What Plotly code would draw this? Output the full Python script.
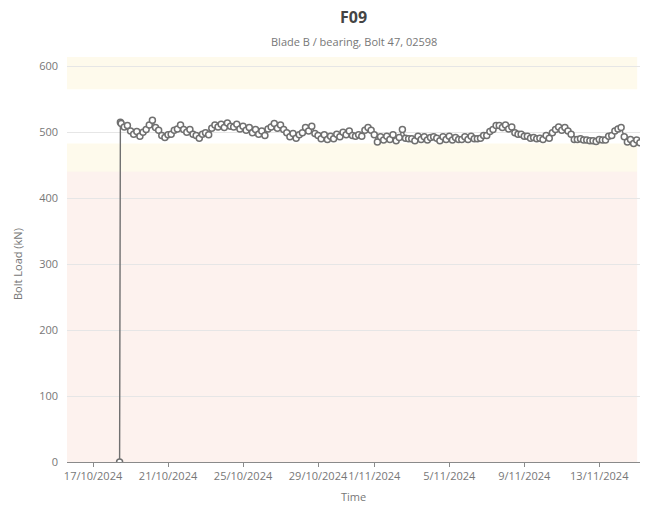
import pandas as pd
import plotly.graph_objects as go

title = "F09"
subtitle = "Blade B / bearing, Bolt 47, 02598"

# initial reading (zero) then readings every 4 hours
t_zero = "2024-10-18 10:00"
v_zero = 0
t_first = "2024-10-18 11:00"
v_first = 515
start_4h = "2024-10-18 12:00"
load_values = [
    513, 508, 510, 502, 497, 501, 494, 500, 504, 511,
    518, 507, 503, 495, 492, 496, 497, 503, 505, 511,
    504, 500, 504, 497, 495, 491, 497, 499, 496, 506,
    511, 508, 512, 507, 514, 509, 508, 512, 505, 509,
    503, 507, 499, 504, 497, 502, 495, 505, 508, 513,
    506, 511, 504, 499, 493, 498, 491, 496, 499, 507,
    502, 509, 498, 495, 490, 496, 489, 494, 490, 497,
    493, 500, 496, 502, 495, 494, 496, 494, 503, 507,
    503, 496, 485, 493, 488, 494, 489, 496, 487, 492,
    504, 491, 490, 490, 487, 494, 489, 493, 488, 492,
    493, 491, 487, 493, 489, 494, 488, 492, 489, 489,
    493, 489, 494, 490, 490, 491, 495, 495, 501, 504,
    510, 510, 507, 511, 505, 508, 499, 497, 497, 494,
    494, 491, 492, 490, 491, 489, 495, 491, 499, 504,
    508, 503, 507, 502, 497, 489, 489, 490, 488, 488,
    487, 487, 486, 489, 488, 488, 494, 495, 502, 505,
    507, 493, 485, 489, 483, 488, 484,
]

tick_dates = ["2024-10-17", "2024-10-21", "2024-10-25", "2024-10-29",
              "2024-11-01", "2024-11-05", "2024-11-09", "2024-11-13"]
tick_labels = ["17/10/2024", "21/10/2024", "25/10/2024", "29/10/2024",
               "1/11/2024", "5/11/2024", "9/11/2024", "13/11/2024"]

# threshold bands (kN)
band_upper_warn = (565, 614)
band_lower_warn = (440, 483)
band_alarm = (0, 440)

times = [pd.Timestamp(t_zero), pd.Timestamp(t_first)] + list(
    pd.date_range(start_4h, periods=len(load_values), freq="4h"))
values = [v_zero, v_first] + load_values

fig = go.Figure()
fig.add_trace(go.Scatter(
    x=times, y=values, mode="lines+markers",
    line=dict(color="#707070", width=1.4),
    marker=dict(size=6, color="white", line=dict(color="#707070", width=1.5)),
    showlegend=False,
))

for (y0, y1), col in [(band_upper_warn, "rgba(253,246,220,0.55)"),
                      (band_lower_warn, "rgba(253,246,220,0.55)"),
                      (band_alarm, "rgba(250,224,215,0.42)")]:
    fig.add_shape(type="rect", xref="paper", yref="y", x0=0, x1=0.995,
                  y0=y0, y1=y1, fillcolor=col, line_width=0, layer="below")

L, R, T, B = 67, 6, 57, 43
W, H = 646, 505
plot_w = W - L - R
plot_h = H - T - B

def px_x(x):
    return (x - L) / plot_w

def px_y(y):
    return (H - B - y) / plot_h

font_family = "Open Sans, Noto Sans, sans-serif"
fig.update_layout(
    width=W, height=H,
    margin=dict(l=L, r=R, t=T, b=B, autoexpand=False),
    paper_bgcolor="white", plot_bgcolor="white",
    font=dict(family=font_family, color="#777", size=11),
)
fig.add_annotation(text="<b>" + title + "</b>", xref="paper", yref="paper",
                   x=0.5, y=px_y(17), yanchor="middle", showarrow=False,
                   font=dict(size=16, color="#444"))
fig.add_annotation(text=subtitle, xref="paper", yref="paper",
                   x=0.5, y=px_y(41), yanchor="middle", showarrow=False,
                   font=dict(size=11, color="#777"))
fig.add_annotation(text="Time", xref="paper", yref="paper",
                   x=0.5, y=px_y(496), yanchor="middle", showarrow=False,
                   font=dict(size=11, color="#777"))
fig.add_annotation(text="Bolt Load (kN)", xref="paper", yref="paper",
                   x=px_x(17), y=px_y(264), xanchor="center", yanchor="middle",
                   textangle=-90, showarrow=False,
                   font=dict(size=11, color="#777"))

fig.update_xaxes(
    type="date",
    range=["2024-10-15 14:40", "2024-11-15 04:10"],
    tickvals=tick_dates, ticktext=tick_labels, tickangle=0,
    showgrid=False, showline=True, linecolor="#8a8a8a", linewidth=1,
    ticks="outside", ticklen=4, tickcolor="#8a8a8a",
    tickfont=dict(size=11, color="#777"),
    zeroline=False, automargin=False,
)
fig.update_yaxes(
    range=[0, 614], tickvals=[0, 100, 200, 300, 400, 500, 600],
    showgrid=True, gridcolor="#e6e6e6", gridwidth=1,
    showline=False, zeroline=False, ticks="", ticklabelstandoff=8,
    tickfont=dict(size=11, color="#777"), automargin=False,
)

fig.write_html(
    "out.html",
    config={"displayModeBar": False},
    post_script="document.body.style.margin='0';document.body.style.overflow='hidden';",
)
